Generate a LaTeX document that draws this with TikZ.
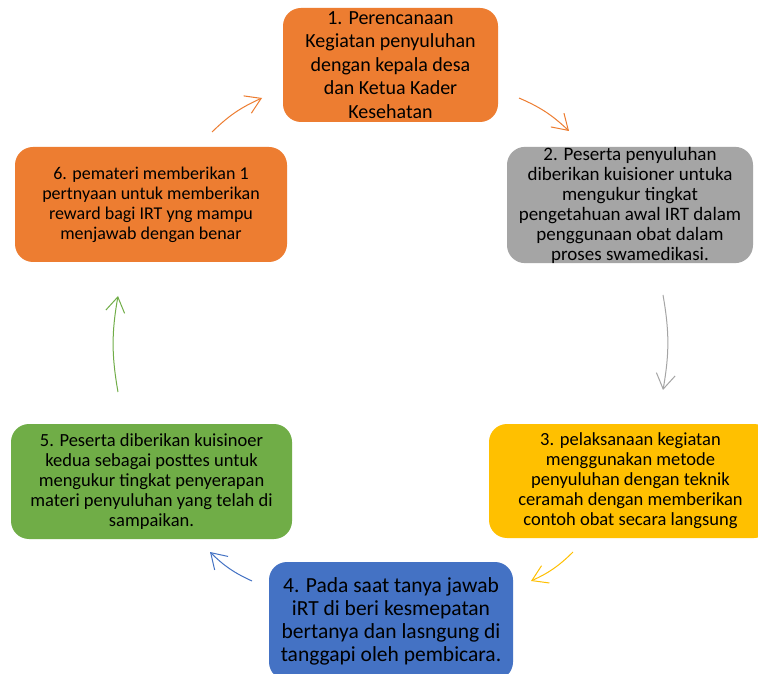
\documentclass[tikz,border=0pt]{standalone}
\usepackage{fontspec}
\setmainfont{Carlito}
\usetikzlibrary{arrows.meta}
\definecolor{corange}{HTML}{ED7D31}
\definecolor{cgrey}{HTML}{A5A5A5}
\definecolor{cgold}{HTML}{FFC000}
\definecolor{cblue}{HTML}{4472C4}
\definecolor{cgreen}{HTML}{70AD47}
\tikzset{
  stepbox/.style={rectangle, rounded corners=18pt, draw=none, align=center, text=black, inner sep=0pt},
  cyc/.style={line width=1pt, -{Straight Barb[length=15pt,width=19pt,line width=1pt]}, bend left=10}
}
\begin{document}
\begin{tikzpicture}[x=1pt,y=1pt]
\useasboundingbox (0,0) rectangle (758,673);
\clip (0,0) rectangle (758,673);
\fill[white] (0,0) rectangle (758,673);

\node[stepbox, fill=corange, minimum width=215pt, minimum height=114pt, font=\fontsize{20}{23.5}\selectfont]
  (b1) at (390.5,608) {1. Perencanaan\\Kegiatan penyuluhan\\dengan kepala desa\\dan Ketua Kader\\Kesehatan};
\node[stepbox, fill=cgrey, minimum width=246pt, minimum height=114pt, font=\fontsize{19}{20}\selectfont]
  (b2) at (630,468) {2. Peserta penyuluhan\\diberikan kuisioner untuka\\mengukur tingkat\\pengetahuan awal IRT dalam\\penggunaan obat dalam\\proses swamedikasi.};
\node[stepbox, fill=cgold, minimum width=283pt, minimum height=114pt, font=\fontsize{18.5}{20}\selectfont]
  (b3) at (630.5,192) {3. pelaksanaan kegiatan\\menggunakan metode\\penyuluhan dengan teknik\\ceramah dengan memberikan\\contoh obat secara langsung};
\node[stepbox, fill=cblue, minimum width=244pt, minimum height=118pt, font=\fontsize{21.5}{23}\selectfont]
  (b4) at (391,52) {4. Pada saat tanya jawab\\iRT di beri kesmepatan\\bertanya dan lasngung di\\tanggapi oleh pembicara.};
\node[stepbox, fill=cgreen, minimum width=281pt, minimum height=115pt, font=\fontsize{18.5}{20}\selectfont]
  (b5) at (151.5,191.5) {5. Peserta diberikan kuisinoer\\kedua sebagai posttes untuk\\mengukur tingkat penyerapan\\materi penyuluhan yang telah di\\sampaikan.};
\node[stepbox, fill=corange, minimum width=272pt, minimum height=115pt, font=\fontsize{18}{20}\selectfont]
  (b6) at (151,468.5) {6. pemateri memberikan 1\\pertnyaan untuk memberikan\\reward bagi IRT yng mampu\\menjawab dengan benar};

\coordinate (a1s) at (212,541); \coordinate (a1e) at (262,575);
\coordinate (a2s) at (519,575); \coordinate (a2e) at (569,542);
\coordinate (a3s) at (663,378); \coordinate (a3e) at (663,283);
\coordinate (a4s) at (573,121); \coordinate (a4e) at (531,92);
\coordinate (a5s) at (252,92);  \coordinate (a5e) at (210,121);
\coordinate (a6s) at (118,281); \coordinate (a6e) at (118,377);

\draw[cyc, corange] (a1s) to (a1e);
\draw[cyc, corange] (a2s) to (a2e);
\draw[cyc, cgrey] (a3s) to (a3e);
\draw[cyc, cgold] (a4s) to (a4e);
\draw[cyc, cblue] (a5s) to (a5e);
\draw[cyc, cgreen] (a6s) to (a6e);
\end{tikzpicture}
\end{document}
